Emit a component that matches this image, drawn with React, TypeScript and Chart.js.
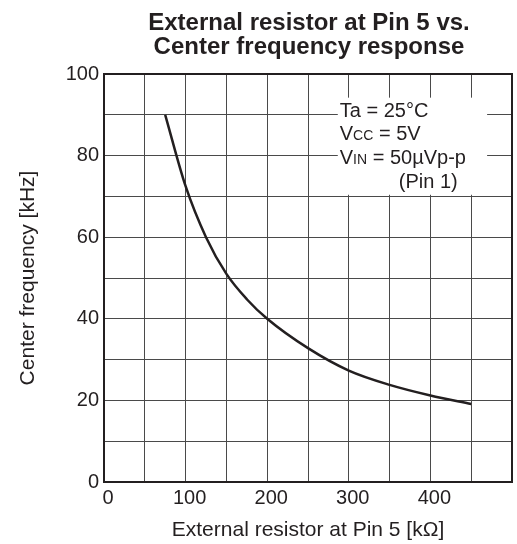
import React, { useEffect, useRef } from "react";
import { Chart, registerables } from "chart.js";

Chart.register(...registerables);

// ---- Data ----
const TITLE_LINES = ["External resistor at Pin 5 vs.", "Center frequency response"];
const X_TITLE = "External resistor at Pin 5 [kΩ]";
const Y_TITLE = "Center frequency [kHz]";
const resistance = [75, 100, 125, 150, 175, 200, 250, 300, 350, 400, 450];
const frequency = [90, 72.5, 60, 51, 44.8, 40, 32.8, 27.3, 23.8, 21.2, 19.1];
const xLabelValues = [0, 100, 200, 300, 400];
const yLabelValues = [0, 20, 40, 60, 80, 100];
const conditionLines = ["Ta = 25°C", "Vcc = 5V", "Vin = 50µVp-p", "(Pin 1)"];

const FONT = "'Liberation Sans', Arial, Helvetica, sans-serif";
const INK = "#231f20";

const titlePlugin = {
  id: "customTitle",
  afterDraw(chart: any) {
    const { ctx, chartArea } = chart;
    const cx = (chartArea.left + chartArea.right) / 2 + 1;
    ctx.save();
    ctx.fillStyle = INK;
    ctx.font = `bold 24px ${FONT}`;
    ctx.textAlign = "center";
    ctx.textBaseline = "alphabetic";
    ctx.fillText(TITLE_LINES[0], cx, 30);
    ctx.fillText(TITLE_LINES[1], cx, 54);
    ctx.restore();
  },
};

const borderPlugin = {
  id: "plotBorder",
  afterDraw(chart: any) {
    const { ctx, chartArea } = chart;
    ctx.save();
    ctx.strokeStyle = INK;
    ctx.lineWidth = 2;
    ctx.strokeRect(chartArea.left, chartArea.top, chartArea.right - chartArea.left, chartArea.bottom - chartArea.top);
    ctx.restore();
  },
};

function drawSegments(ctx: any, x: number, y: number, segs: [string, number][]) {
  let cx = x;
  for (const [t, size] of segs) {
    ctx.font = `${size}px ${FONT}`;
    ctx.fillText(t, cx, y);
    cx += ctx.measureText(t).width;
  }
}

const conditionsPlugin = {
  id: "conditions",
  afterDatasetsDraw(chart: any) {
    const { ctx } = chart;
    const xs = chart.scales.x;
    const ys = chart.scales.y;
    const left = xs.getPixelForValue(286.5);
    const right = xs.getPixelForValue(469.5);
    const top = ys.getPixelForValue(94.2);
    const bottom = ys.getPixelForValue(70.4);
    ctx.save();
    ctx.fillStyle = "#ffffff";
    ctx.fillRect(left, top, right - left, bottom - top);
    ctx.fillStyle = INK;
    ctx.textAlign = "left";
    ctx.textBaseline = "alphabetic";
    const tx = left + 2;
    const lh = 23.7;
    const b0 = top + 19;
    drawSegments(ctx, tx, b0, [[conditionLines[0], 20]]);
    drawSegments(ctx, tx, b0 + lh, [["V", 20], ["CC", 14], [" = 5V", 20]]);
    drawSegments(ctx, tx, b0 + 2 * lh, [["V", 20], ["IN", 14], [" = 50µVp-p", 20]]);
    drawSegments(ctx, tx + 59, b0 + 3 * lh, [[conditionLines[3], 20]]);
    ctx.restore();
  },
};

export default function App() {
  const ref = useRef<HTMLCanvasElement | null>(null);

  useEffect(() => {
    document.body.style.margin = "0";
    const canvas = ref.current;
    if (!canvas) return;
    const chart = new Chart(canvas, {
      type: "line",
      data: {
        datasets: [
          {
            data: resistance.map((r, i) => ({ x: r, y: frequency[i] })),
            borderColor: INK,
            borderWidth: 2.5,
            pointRadius: 0,
            fill: false,
            cubicInterpolationMode: "monotone",
          },
        ],
      },
      options: {
        animation: false,
        responsive: false,
        devicePixelRatio: 1,
        layout: { padding: { top: 74, right: 5, left: 0, bottom: 0 } },
        plugins: { legend: { display: false }, tooltip: { enabled: false }, title: { display: false } },
        scales: {
          x: {
            type: "linear",
            min: 0,
            max: 500,
            afterFit: (s: any) => {
              s.height = 62;
              s.paddingLeft = 0;
              s.paddingRight = 0;
            },
            ticks: {
              stepSize: 50,
              autoSkip: false,
              maxRotation: 0,
              padding: 4,
              labelOffset: 4,
              color: INK,
              font: { family: FONT, size: 20 },
              callback: (v: any) => (xLabelValues.includes(Number(v)) ? String(v) : ""),
            },
            grid: { color: "#4a4a4a", lineWidth: 1, drawTicks: false },
            border: { display: false },
            title: {
              display: true,
              text: X_TITLE,
              color: INK,
              font: { family: FONT, size: 21 },
              padding: { top: 0, bottom: 1.5 },
            },
          },
          y: {
            type: "linear",
            min: 0,
            max: 100,
            afterFit: (s: any) => {
              s.width = 104;
              s.paddingTop = 0;
              s.paddingBottom = 0;
            },
            ticks: {
              stepSize: 10,
              autoSkip: false,
              padding: 5,
              color: INK,
              font: { family: FONT, size: 20 },
              callback: (v: any) => (yLabelValues.includes(Number(v)) ? String(v) : ""),
            },
            grid: { color: "#4a4a4a", lineWidth: 1, drawTicks: false },
            border: { display: false },
            title: {
              display: true,
              text: Y_TITLE,
              color: INK,
              font: { family: FONT, size: 21 },
              padding: { top: 15.5, bottom: 0 },
            },
          },
        },
      },
      plugins: [conditionsPlugin, borderPlugin, titlePlugin],
    } as any);
    return () => chart.destroy();
  }, []);

  return (
    <div style={{ width: 517, height: 544, background: "#fff" }}>
      <canvas ref={ref} width={517} height={544} style={{ display: "block" }} />
    </div>
  );
}
